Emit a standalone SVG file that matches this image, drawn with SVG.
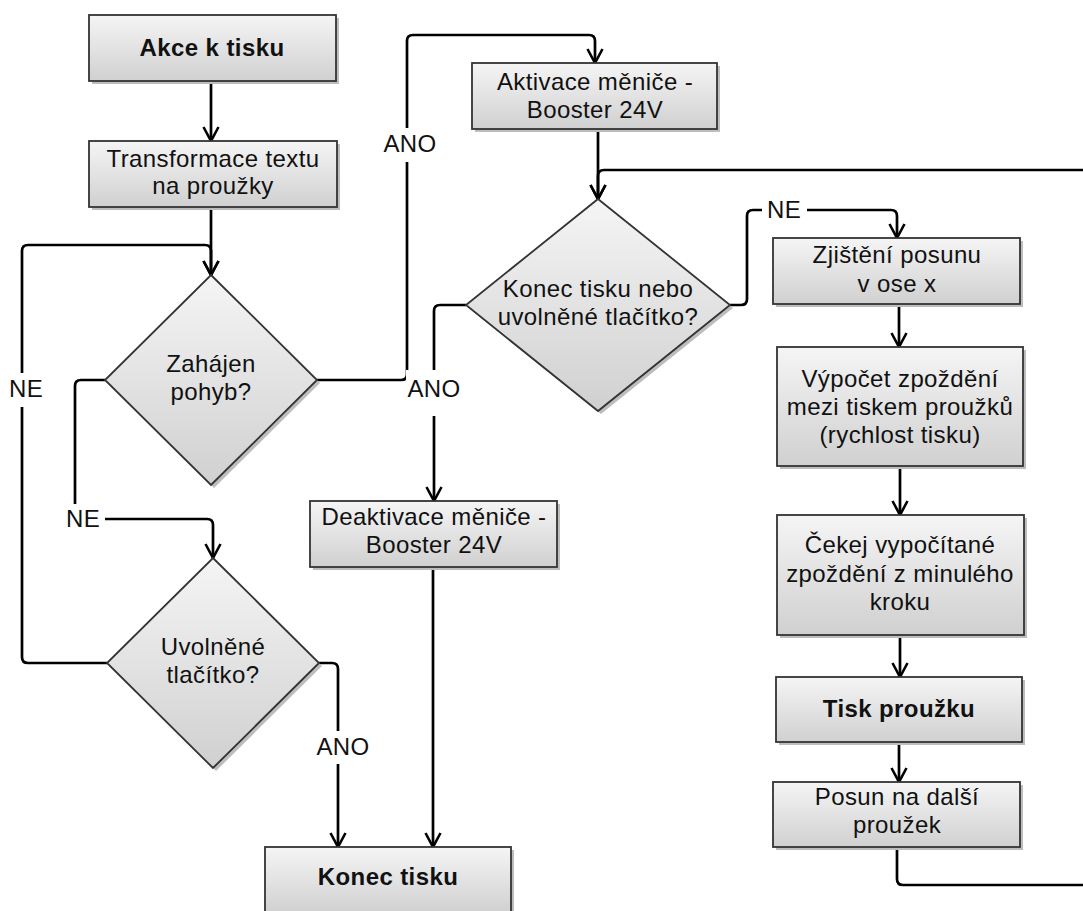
<svg xmlns="http://www.w3.org/2000/svg" width="1083" height="911" viewBox="0 0 1083 911">
<defs>
<linearGradient id="g" x1="0" y1="0" x2="0" y2="1">
<stop offset="0" stop-color="#f5f5f5"/>
<stop offset="1" stop-color="#d0d0d0"/>
</linearGradient>
<marker id="arr" viewBox="0 0 18 18" refX="16" refY="9" markerWidth="18" markerHeight="18" markerUnits="userSpaceOnUse" orient="auto">
<path d="M2,1.5 L16,9 L2,16.5" fill="none" stroke="#000" stroke-width="2.6"/>
</marker>
</defs>
<style>
.sh{fill:#bdbdbd}
.bx{fill:url(#g);stroke:#333;stroke-width:1.8}
.t{font-family:"Liberation Sans",Arial,sans-serif;font-size:24px;fill:#111;text-anchor:middle;letter-spacing:0.4px}
.b{font-weight:bold}
.c{fill:none;stroke:#000;stroke-width:2.7}
.a{marker-end:url(#arr)}
.lb{fill:#fff}
</style>
<rect width="1083" height="911" fill="#fff"/>

<g id="connectors">
<path class="c a" d="M211,81 V141"/>
<path class="c a" d="M211,207 V275"/>
<path class="c a" d="M107,663 H28 Q22,663 22,657 V251 Q22,245 28,245 H205 Q211,245 211,251 V275"/>
<path class="c a" d="M105,380 H81 Q75,380 75,386 V513 Q75,519 81,519 H207 Q213,519 213,525 V558"/>
<path class="c a" d="M317,380 H401 Q407,380 407,374 V41 Q407,35 413,35 H589 Q595,35 595,41 V63"/>
<path class="c a" d="M598,129 V199"/>
<path class="c a" d="M1090,170 H604 Q598,170 598,176 V199"/>
<path class="c" d="M897,847 V879 Q897,885 903,885 H1090"/>
<path class="c a" d="M466,305 H440 Q434,305 434,311 V501"/>
<path class="c a" d="M730,305 H741 Q747,305 747,299 V216 Q747,210 753,210 H891 Q897,210 897,216 V238"/>
<path class="c a" d="M899,304 V347"/>
<path class="c a" d="M900,466 V515"/>
<path class="c a" d="M900,635 V677"/>
<path class="c a" d="M899,742 V782"/>
<path class="c a" d="M433,567 V847"/>
<path class="c a" d="M319,663 H332 Q338,663 338,669 V847"/>
<rect class="lb" x="6" y="373" width="40" height="34"/>
<text class="t" x="26" y="397">NE</text>
<rect class="lb" x="64" y="504" width="41" height="28"/>
<text class="t" x="83" y="527">NE</text>
<rect class="lb" x="382" y="128" width="56" height="34"/>
<text class="t" x="410" y="152">ANO</text>
<rect class="lb" x="406" y="370" width="56" height="46"/>
<text class="t" x="434" y="397">ANO</text>
<rect class="lb" x="315" y="731" width="56" height="33"/>
<text class="t" x="343" y="755">ANO</text>
<rect class="lb" x="762" y="198" width="45" height="26"/>
<text class="t" x="784" y="218">NE</text>
</g>

<g id="n-akce">
<rect class="sh" x="92" y="18" width="247" height="66"/>
<rect class="bx" x="89" y="15" width="247" height="66"/>
<text class="t b" x="212" y="56">Akce k tisku</text>
</g>
<g id="n-transformace">
<rect class="sh" x="92" y="144" width="248" height="66"/>
<rect class="bx" x="89" y="141" width="248" height="66"/>
<text class="t" x="213" y="167">Transformace textu</text>
<text class="t" x="213" y="194">na proužky</text>
</g>
<g id="n-zahajen">
<polygon class="sh" points="214,278 320,383 214,488 108,383"/>
<polygon class="bx" points="211,275 317,380 211,485 105,380"/>
<text class="t" x="211" y="372">Zahájen</text>
<text class="t" x="211" y="400">pohyb?</text>
</g>
<g id="n-uvolnene">
<polygon class="sh" points="216,561 322,666 216,771 110,666"/>
<polygon class="bx" points="213,558 319,663 213,768 107,663"/>
<text class="t" x="213" y="655">Uvolněné</text>
<text class="t" x="213" y="683">tlačítko?</text>
</g>
<g id="n-aktivace">
<rect class="sh" x="475" y="66" width="245" height="66"/>
<rect class="bx" x="472" y="63" width="245" height="66"/>
<text class="t" x="595" y="90">Aktivace měniče -</text>
<text class="t" x="595" y="118">Booster 24V</text>
</g>
<g id="n-konec-dec">
<polygon class="sh" points="601,202 733,308 601,414 469,308"/>
<polygon class="bx" points="598,199 730,305 598,411 466,305"/>
<text class="t" x="598" y="297">Konec tisku nebo</text>
<text class="t" x="598" y="325">uvolněné tlačítko?</text>
</g>
<g id="n-deaktivace">
<rect class="sh" x="313" y="504" width="247" height="66"/>
<rect class="bx" x="310" y="501" width="247" height="66"/>
<text class="t" x="434" y="525">Deaktivace měniče -</text>
<text class="t" x="434" y="553">Booster 24V</text>
</g>
<g id="n-konec">
<rect class="sh" x="268" y="850" width="246" height="66"/>
<rect class="bx" x="265" y="847" width="246" height="66"/>
<text class="t b" x="388" y="885">Konec tisku</text>
</g>
<g id="n-zjisteni">
<rect class="sh" x="776" y="241" width="247" height="66"/>
<rect class="bx" x="773" y="238" width="247" height="66"/>
<text class="t" x="897" y="263">Zjištění posunu</text>
<text class="t" x="897" y="292">v ose x</text>
</g>
<g id="n-vypocet">
<rect class="sh" x="780" y="350" width="246" height="119"/>
<rect class="bx" x="777" y="347" width="246" height="119"/>
<text class="t" x="900" y="387">Výpočet zpoždění</text>
<text class="t" x="900" y="415">mezi tiskem proužků</text>
<text class="t" x="900" y="443">(rychlost tisku)</text>
</g>
<g id="n-cekej">
<rect class="sh" x="780" y="518" width="247" height="120"/>
<rect class="bx" x="777" y="515" width="247" height="120"/>
<text class="t" x="900" y="553">Čekej vypočítané</text>
<text class="t" x="900" y="582">zpoždění z minulého</text>
<text class="t" x="900" y="610">kroku</text>
</g>
<g id="n-tisk">
<rect class="sh" x="779" y="680" width="246" height="65"/>
<rect class="bx" x="776" y="677" width="246" height="65"/>
<text class="t b" x="899" y="717">Tisk proužku</text>
</g>
<g id="n-posun">
<rect class="sh" x="776" y="785" width="247" height="65"/>
<rect class="bx" x="773" y="782" width="247" height="65"/>
<text class="t" x="897" y="805">Posun na další</text>
<text class="t" x="897" y="833">proužek</text>
</g>
</svg>
